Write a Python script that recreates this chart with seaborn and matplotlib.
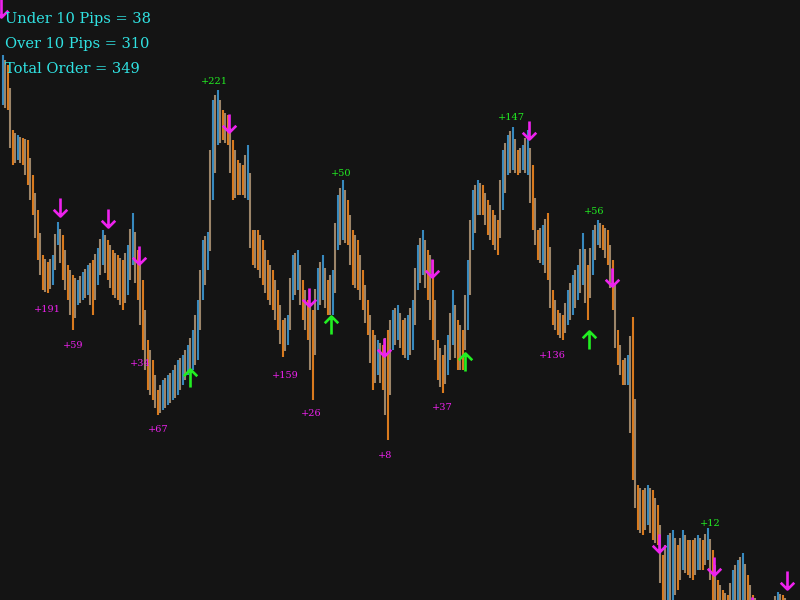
import numpy as np
import pandas as pd
import matplotlib
matplotlib.use("Agg")
import matplotlib.pyplot as plt
from matplotlib.path import Path
import seaborn as sns

# ---- price bars (high / low, in pips) ----
highs = [545, 535, 470, 465, 462, 460, 425, 390, 345, 338,
         345, 378, 365, 335, 325, 320, 328, 335, 340, 352,
         370, 360, 350, 345, 340, 355, 387, 350, 320, 260,
         240, 210, 220, 225, 230, 240, 245, 255, 270, 300,
         360, 368, 500, 510, 490, 485, 460, 440, 435, 455,
         370, 370, 360, 340, 330, 310, 280, 285, 345, 350,
         320, 300, 290, 332, 345, 320, 330, 405, 420, 400,
         370, 360, 330, 300, 270, 260, 255, 270, 290, 295,
         280, 285, 300, 355, 370, 350, 340, 260, 245, 265,
         310, 280, 270, 340, 410, 420, 415, 400, 390, 380,
         450, 465, 473, 450, 455, 470, 435, 370, 375, 387,
         310, 290, 285, 310, 325, 335, 367, 335, 370, 380,
         375, 370, 340, 270, 240, 245, 283, 115, 110, 115,
         110, 95, 45, 65, 70, 55, 70, 60, 60, 65,
         60, 72, 50, 20, 10, 5, 30, 40, 47, 25,
         5, 0, -5, 0, 0, 8, 5, 0]
lows = [495, 490, 435, 440, 435, 415, 385, 340, 310, 307,
        315, 355, 320, 300, 270, 295, 300, 305, 285, 315,
        335, 320, 305, 300, 290, 305, 335, 300, 250, 210,
        200, 185, 190, 195, 200, 205, 215, 225, 230, 240,
        300, 330, 400, 455, 460, 455, 400, 405, 405, 400,
        335, 330, 315, 300, 290, 270, 243, 255, 300, 310,
        280, 260, 200, 290, 300, 285, 285, 350, 360, 355,
        315, 310, 290, 265, 210, 225, 210, 160, 250, 260,
        245, 240, 250, 310, 325, 300, 260, 220, 207, 225,
        255, 230, 230, 270, 350, 385, 385, 365, 355, 345,
        390, 425, 430, 425, 430, 425, 370, 340, 335, 320,
        275, 265, 260, 275, 285, 300, 315, 280, 325, 355,
        350, 335, 290, 235, 215, 215, 120, 70, 65, 75,
        60, 55, -10, -5, 0, 10, 30, 25, 20, 30,
        30, 40, 0, -10, -20, -20, -10, 0, 0, -15,
        -20, -30, -30, -30, -30, -20, -25, -30]

# ---- signals ----
sell_t = [-0.3, 11.5, 21.1, 27.3, 45.3, 61.3, 76.3, 85.9, 105.3, 121.9, 131.3, 142.3, 156.9, 149.9]
sell_p = [592, 393, 382, 345, 477, 303, 253, 332, 470, 323, 57, 34, 20, -6]
buy_t = [37.5, 65.7, 92.5, 117.3]
buy_p = [222, 275, 238, 260]

loss_text = ["+191", "+59", "+34", "+67", "+159", "+26", "+8", "+37", "+136"]
loss_t = [8.9, 14.1, 27.5, 31.1, 56.5, 61.7, 76.5, 87.9, 109.9]
loss_p = [290, 255, 236, 170, 225, 186, 145, 192, 244]
gain_text = ["+221", "+50", "+147", "+56", "+12"]
gain_t = [42.3, 67.7, 101.7, 118.3, 141.5]
gain_p = [518, 426, 483, 388, 77]

stats = ["Under 10 Pips = 38", "Over 10 Pips = 310", "Total Order = 349"]

BG = "#141414"
BLUE = "#3a90c8"
ORANGE = "#e5801f"
TAN = "#a48c6e"
MAG = "#ee22ee"
GRN = "#22ee22"
CYAN = "#30e2e2"

sns.set_style("dark", {"axes.facecolor": BG, "figure.facecolor": BG})

n = len(highs)
hi = np.array(highs, dtype=float)
lo = np.array(lows, dtype=float)
mid = (hi + lo) / 2.0
direction = ["up"] + ["up" if mid[i] >= mid[i - 1] else "down" for i in range(1, n)]

rows = []
for i in range(n):
    rows.append({"t": i, "price": lo[i], "bar": f"b{i}", "kind": direction[i]})
    rows.append({"t": i, "price": hi[i], "bar": f"b{i}", "kind": direction[i]})
    if i > 0:
        # connector stroke between consecutive bars
        a = min((lo[i - 1] + lo[i]) / 2, mid[i - 1], mid[i])
        b = max((hi[i - 1] + hi[i]) / 2, mid[i - 1], mid[i])
        rows.append({"t": i - 0.5, "price": a, "bar": f"c{i}", "kind": "mix"})
        rows.append({"t": i - 0.5, "price": b, "bar": f"c{i}", "kind": "mix"})
df = pd.DataFrame(rows)

fig = plt.figure(figsize=(8, 6), dpi=100)
fig.patch.set_facecolor(BG)
ax = fig.add_axes([0, 0, 1, 1])
ax.set_facecolor(BG)

sns.lineplot(data=df, x="t", y="price", units="bar", estimator=None, hue="kind",
             palette={"up": BLUE, "down": ORANGE, "mix": TAN}, linewidth=1.5,
             alpha=0.95, legend=False, ax=ax, solid_capstyle="butt")

down_arrow = Path([(0, 1), (0, -1), (-0.75, -0.25), (0, -1), (0.75, -0.25)],
                  [Path.MOVETO, Path.LINETO, Path.MOVETO, Path.LINETO, Path.LINETO])
up_arrow = Path([(0, -1), (0, 1), (-0.75, 0.25), (0, 1), (0.75, 0.25)],
                [Path.MOVETO, Path.LINETO, Path.MOVETO, Path.LINETO, Path.LINETO])

ax.plot(sell_t, sell_p, linestyle="none", marker=down_arrow, ms=13,
        mew=1.9, mfc="none", mec=MAG, zorder=5)
ax.plot(buy_t, buy_p, linestyle="none", marker=up_arrow, ms=13,
        mew=1.9, mfc="none", mec=GRN, zorder=5)

for s, t, p in zip(loss_text, loss_t, loss_p):
    ax.text(t, p, s, color=MAG, fontsize=7, family="DejaVu Serif",
            ha="center", va="center", zorder=6)
for s, t, p in zip(gain_text, gain_t, gain_p):
    ax.text(t, p, s, color=GRN, fontsize=7, family="DejaVu Serif",
            ha="center", va="center", zorder=6)

for k, s in enumerate(stats):
    fig.text(5 / 800, 1 - (19 + 25 * k) / 600, s, color=CYAN, fontsize=10.5,
             family="DejaVu Serif", ha="left", va="center")

ax.set_xlim(-0.5, 159.5)
ax.set_ylim(0, 600)
ax.set_axis_off()

fig.savefig("out.png", dpi=100, facecolor=BG)
